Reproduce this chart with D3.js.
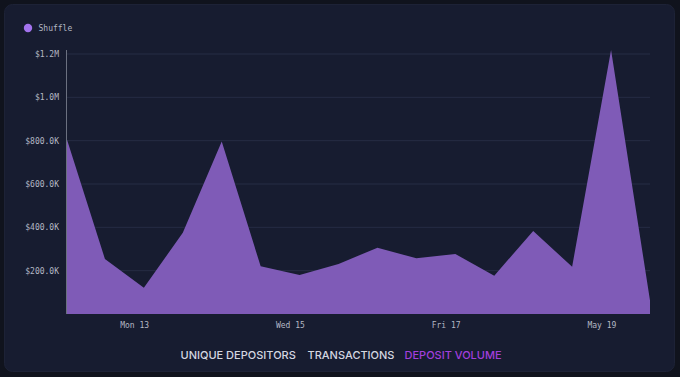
<!DOCTYPE html>
<html><head><meta charset="utf-8">
<script src="https://cdn.jsdelivr.net/npm/d3@7"></script>
<style>
html,body{margin:0;padding:0;background:#10131d;}
svg{display:block;}
</style></head>
<body>
<svg id="chart" width="680" height="377"></svg>
<script>
// ---- data ----
const seriesName = "Shuffle";
const times = [
  "2024-05-12T03:00","2024-05-12T15:00","2024-05-13T03:00","2024-05-13T15:00",
  "2024-05-14T03:00","2024-05-14T15:00","2024-05-15T03:00","2024-05-15T15:00",
  "2024-05-16T03:00","2024-05-16T15:00","2024-05-17T03:00","2024-05-17T15:00",
  "2024-05-18T03:00","2024-05-18T15:00","2024-05-19T03:00","2024-05-19T15:00"
];
const depositVolume = [819000, 254000, 121000, 375000, 796000, 220000, 180000, 231000,
  306000, 257000, 277000, 177000, 383000, 218000, 1219000, 62000];
const yTicks = [200000, 400000, 600000, 800000, 1000000, 1200000];
const yTickLabels = ["$200.0K","$400.0K","$600.0K","$800.0K","$1.0M","$1.2M"];
const tabs = ["UNIQUE DEPOSITORS","TRANSACTIONS","DEPOSIT VOLUME"];
const activeTab = "DEPOSIT VOLUME";

// ---- layout ----
const W = 680, H = 377;
const M = {left: 66, right: 30, top: 50, bottom: 63};
const svg = d3.select("#chart");
const parse = d3.timeParse("%Y-%m-%dT%H:%M");
const data = times.map((t,i)=>({t: parse(t), v: depositVolume[i]}));

// card
svg.append("rect").attr("x",0).attr("y",0).attr("width",W).attr("height",H).attr("fill","#10131d");
svg.append("rect").attr("x",4.5).attr("y",4.5).attr("width",W-10).attr("height",H-10)
  .attr("rx",8).attr("fill","#171c30").attr("stroke","#1d2236");

const x = d3.scaleTime().domain(d3.extent(data, d=>d.t)).range([M.left, W - M.right]);
const y = d3.scaleLinear().domain([0, 1200000]).range([H - M.bottom, 54]);

// grid
svg.append("g").selectAll("line").data(yTicks).join("line")
  .attr("x1", M.left).attr("x2", W - M.right)
  .attr("y1", d=>y(d)).attr("y2", d=>y(d))
  .attr("stroke", "#262c44").attr("stroke-width", 1);

// area
const area = d3.area().x(d=>x(d.t)).y0(y(0)).y1(d=>y(d.v)).curve(d3.curveLinear);
svg.append("path").datum(data).attr("d", area).attr("fill", "#7f5bb7");

// y axis
const yAxis = d3.axisLeft(y).tickValues(yTicks)
  .tickFormat((d,i)=>yTickLabels[i]).tickSize(0).tickPadding(7);
const gy = svg.append("g").attr("transform", `translate(${M.left},0)`).call(yAxis);
gy.select(".domain").remove();
gy.selectAll("text").attr("fill","#b4b8c4").style("font-family","'DejaVu Sans Mono', monospace").style("font-size","8px");
svg.append("line").attr("x1",M.left+0.5).attr("x2",M.left+0.5).attr("y1",50).attr("y2",y(0))
  .attr("stroke","#6b7080").attr("stroke-width",1);

// x axis
const xAxis = d3.axisBottom(x).ticks(d3.timeDay.every(2)).tickSize(0).tickPadding(8);
const gx = svg.append("g").attr("transform", `translate(0,${y(0)})`).call(xAxis);
gx.select(".domain").remove();
gx.selectAll("text").attr("fill","#b4b8c4").style("font-family","'DejaVu Sans Mono', monospace").style("font-size","8px");

// legend
svg.append("circle").attr("cx",28).attr("cy",28).attr("r",4.2).attr("fill","#a373ee");
svg.append("text").attr("x",38.5).attr("y",31).text(seriesName)
  .attr("fill","#b4b8c4").style("font-family","'DejaVu Sans Mono', monospace").style("font-size","8px");

// tabs
const tabX = [180.5, 307.5, 404.5];
svg.append("g").selectAll("text").data(tabs).join("text")
  .attr("x",(d,i)=>tabX[i]).attr("y",359)
  .text(d=>d)
  .attr("fill", d=> d===activeTab ? "#a23fdc" : "#d4d7e0")
  .style("font-family","Inter, 'Noto Sans', sans-serif")
  .style("font-size","11px").style("font-weight","500").style("letter-spacing","0px");
</script>
</body></html>
